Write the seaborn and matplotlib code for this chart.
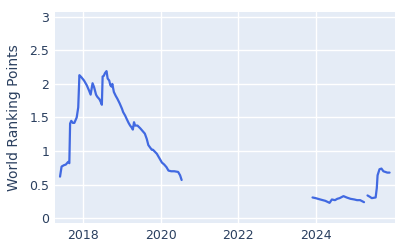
import matplotlib
matplotlib.use("Agg")
import matplotlib.pyplot as plt
import seaborn as sns
import pandas as pd

years_a = [2017.40, 2017.44, 2017.50, 2017.55, 2017.61, 2017.64, 2017.66, 2017.69, 2017.73, 2017.77,
           2017.83, 2017.87, 2017.90, 2017.95, 2018.02, 2018.09, 2018.15, 2018.19, 2018.24, 2018.28,
           2018.33, 2018.36, 2018.42, 2018.46, 2018.48, 2018.50, 2018.53, 2018.56, 2018.60, 2018.63,
           2018.67, 2018.70, 2018.73, 2018.75, 2018.79, 2018.84, 2018.88, 2018.94, 2019.00, 2019.03,
           2019.08, 2019.12, 2019.17, 2019.21, 2019.25, 2019.28, 2019.31, 2019.34, 2019.40, 2019.47,
           2019.53, 2019.59, 2019.64, 2019.68, 2019.73, 2019.77, 2019.80, 2019.85, 2019.90, 2019.96,
           2020.03, 2020.09, 2020.15, 2020.20, 2020.27, 2020.35, 2020.45, 2020.50, 2020.54]
points_a = [0.62, 0.77, 0.79, 0.80, 0.84, 0.82, 1.41, 1.45, 1.42, 1.42,
            1.50, 1.65, 2.13, 2.10, 2.05, 1.98, 1.90, 1.84, 2.01, 1.95,
            1.84, 1.81, 1.77, 1.72, 1.69, 2.11, 2.12, 2.16, 2.19, 2.08,
            2.05, 1.98, 1.96, 2.00, 1.88, 1.82, 1.78, 1.71, 1.63, 1.58,
            1.53, 1.48, 1.42, 1.38, 1.35, 1.32, 1.43, 1.38, 1.38, 1.34,
            1.30, 1.26, 1.18, 1.09, 1.05, 1.02, 1.02, 0.99, 0.96, 0.90,
            0.83, 0.80, 0.76, 0.71, 0.70, 0.70, 0.69, 0.64, 0.57]

years_b = [2023.92, 2024.00, 2024.12, 2024.25, 2024.36, 2024.42, 2024.50, 2024.56, 2024.62,
           2024.72, 2024.80, 2024.90, 2025.00, 2025.07, 2025.15, 2025.25]
points_b = [0.31, 0.30, 0.28, 0.26, 0.23, 0.28, 0.27, 0.29, 0.30,
            0.33, 0.31, 0.29, 0.28, 0.27, 0.27, 0.24]

years_c = [2025.34, 2025.40, 2025.45, 2025.55, 2025.58, 2025.60, 2025.65, 2025.70, 2025.75,
           2025.80, 2025.85, 2025.91]
points_c = [0.34, 0.32, 0.30, 0.31, 0.45, 0.64, 0.73, 0.74, 0.70, 0.69, 0.68, 0.68]

x_ticks = [2018, 2020, 2022, 2024]
y_ticks = [0, 0.5, 1, 1.5, 2, 2.5, 3]
y_label = "World Ranking Points"

df = pd.concat([
    pd.DataFrame({"year": years_a, "pts": points_a, "seg": 0}),
    pd.DataFrame({"year": years_b, "pts": points_b, "seg": 1}),
    pd.DataFrame({"year": years_c, "pts": points_c, "seg": 2}),
])

sns.set_theme(style="darkgrid")
text_col = "#2a3f5f"
plt.rcParams["font.family"] = ["DejaVu Sans"]
fig = plt.figure(figsize=(4, 2.5), dpi=100)
ax = fig.add_axes([0.1375, 0.108, 0.85, 0.844])
ax.set_facecolor("#E5ECF6")
sns.lineplot(data=df, x="year", y="pts", units="seg", estimator=None,
             color="#4169E1", linewidth=1.6, ax=ax)
ax.set_xlim(2017.27, 2026.05)
ax.set_ylim(-0.07, 3.07)
ax.set_xticks(x_ticks)
ax.set_xticklabels([str(t) for t in x_ticks])
ax.set_yticks(y_ticks)
ax.set_yticklabels(["0", "0.5", "1", "1.5", "2", "2.5", "3"])
ax.grid(color="white", linewidth=1)
for s in ax.spines.values():
    s.set_visible(False)
ax.tick_params(axis="both", colors=text_col, labelsize=9, length=0, pad=4)
ax.set_xlabel("")
ax.set_ylabel(y_label, color=text_col, fontsize=10, labelpad=6)
fig.savefig("out.png", dpi=100)
